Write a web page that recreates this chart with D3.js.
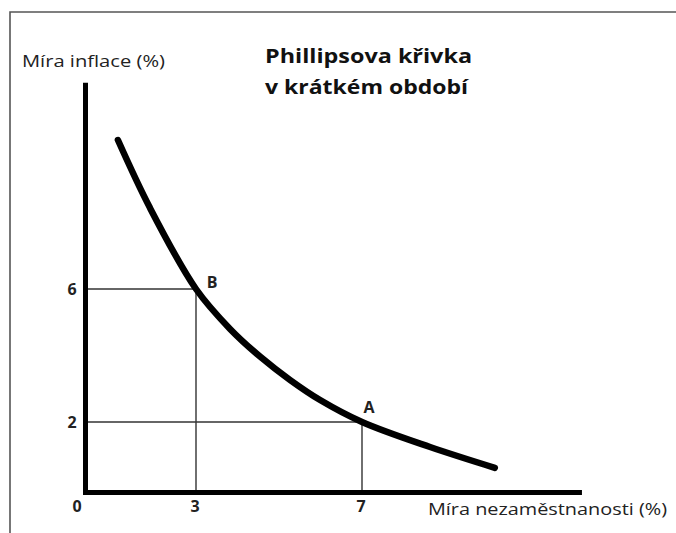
<!DOCTYPE html>
<html>
<head>
<meta charset="utf-8">
<script src="https://cdn.jsdelivr.net/npm/d3@7"></script>
<style>
  body { margin: 0; background: #fff; }
  svg { display: block; font-family: "Open Sans", Lato, sans-serif; }
</style>
</head>
<body>
<svg></svg>
<script>
  // Curve points (unemployment %, inflation %)
  var unemployment = [0.88, 1.75, 3, 3.82, 4.55, 5.27, 5.99, 7, 8.64, 10.2];
  var inflation = [10.48, 8.44, 6, 4.8, 3.96, 3.26, 2.66, 2, 1.29, 0.7];

  // Marked points on the curve
  var pointNames = ["B", "A"];
  var pointX = [3, 7];
  var pointY = [6, 2];

  // Tick labels
  var xTicks = [3, 7];
  var yTicks = [6, 2];

  var width = 676;
  var height = 533;

  var svg = d3.select("svg")
    .attr("width", width)
    .attr("height", height);

  // Hand-drawn axes are not quite even, so piecewise scales
  var xScale = d3.scaleLinear()
    .domain([0, 3, 7])
    .range([85.5, 196, 362]);

  var yScale = d3.scaleLinear()
    .domain([0, 2, 6])
    .range([492.5, 422, 289]);

  // Picture frame
  svg.append("path")
    .attr("d", "M10,533V12H676")
    .attr("fill", "none")
    .attr("stroke", "#555")
    .attr("stroke-width", 1.6);

  // Guide lines from the points to the axes
  var guides = svg.append("g")
    .attr("stroke", "#333")
    .attr("stroke-width", 1.4);

  pointX.forEach(function(px, i) {
    guides.append("line")
      .attr("x1", xScale(0))
      .attr("x2", xScale(px))
      .attr("y1", yScale(pointY[i]))
      .attr("y2", yScale(pointY[i]));
    guides.append("line")
      .attr("x1", xScale(px))
      .attr("x2", xScale(px))
      .attr("y1", yScale(pointY[i]))
      .attr("y2", yScale(0));
  });

  // Axes
  svg.append("path")
    .attr("d", "M" + xScale(0) + "," + yScale(12.2) + "V" + yScale(0) + "H" + xScale(12.3))
    .attr("fill", "none")
    .attr("stroke", "#000")
    .attr("stroke-width", 5);

  // Phillips curve
  var line = d3.line()
    .x(function(d, i) { return xScale(unemployment[i]); })
    .y(function(d, i) { return yScale(inflation[i]); })
    .curve(d3.curveCatmullRom.alpha(0.5));

  svg.append("path")
    .attr("d", line(unemployment))
    .attr("fill", "none")
    .attr("stroke", "#000")
    .attr("stroke-width", 6.5)
    .attr("stroke-linecap", "round");

  // Tick labels
  svg.selectAll(".ytick")
    .data(yTicks)
    .enter()
    .append("text")
    .attr("class", "ytick")
    .attr("x", 72)
    .attr("y", function(d) { return yScale(d); })
    .attr("dy", "0.36em")
    .attr("text-anchor", "middle")
    .style("font-size", "16px")
    .style("font-weight", "bold")
    .style("fill", "#222")
    .text(function(d) { return d; });

  svg.selectAll(".xtick")
    .data([0].concat(xTicks))
    .enter()
    .append("text")
    .attr("class", "xtick")
    .attr("x", function(d) { return d === 0 ? 77 : xScale(d) - 1; })
    .attr("y", 512)
    .attr("text-anchor", "middle")
    .style("font-size", "16px")
    .style("font-weight", "bold")
    .style("fill", "#222")
    .text(function(d) { return d; });

  // Point labels
  svg.selectAll(".plabel")
    .data(pointNames)
    .enter()
    .append("text")
    .attr("class", "plabel")
    .attr("x", function(d, i) { return xScale(pointX[i]) + (i === 0 ? 16 : 7); })
    .attr("y", function(d, i) { return yScale(pointY[i]) + (i === 0 ? -1 : -9); })
    .attr("text-anchor", "middle")
    .style("font-size", "16px")
    .style("font-weight", "bold")
    .style("fill", "#222")
    .text(function(d) { return d; });

  // Axis titles
  svg.append("text")
    .attr("x", 22)
    .attr("y", 67)
    .attr("textLength", 143)
    .attr("lengthAdjust", "spacingAndGlyphs")
    .style("font-size", "17px")
    .style("fill", "#222")
    .text("Míra inflace (%)");

  svg.append("text")
    .attr("x", 428)
    .attr("y", 515)
    .attr("textLength", 239)
    .attr("lengthAdjust", "spacingAndGlyphs")
    .style("font-size", "17px")
    .style("fill", "#222")
    .text("Míra nezaměstnanosti (%)");

  // Chart title
  var title = svg.append("text")
    .style("font-size", "20px")
    .style("font-weight", "bold")
    .style("fill", "#111");

  title.append("tspan")
    .attr("x", 265).attr("y", 63)
    .attr("textLength", 207)
    .attr("lengthAdjust", "spacingAndGlyphs")
    .text("Phillipsova křivka");
  title.append("tspan")
    .attr("x", 265).attr("y", 94)
    .attr("textLength", 203)
    .attr("lengthAdjust", "spacingAndGlyphs")
    .text("v krátkém období");
</script>
</body>
</html>
